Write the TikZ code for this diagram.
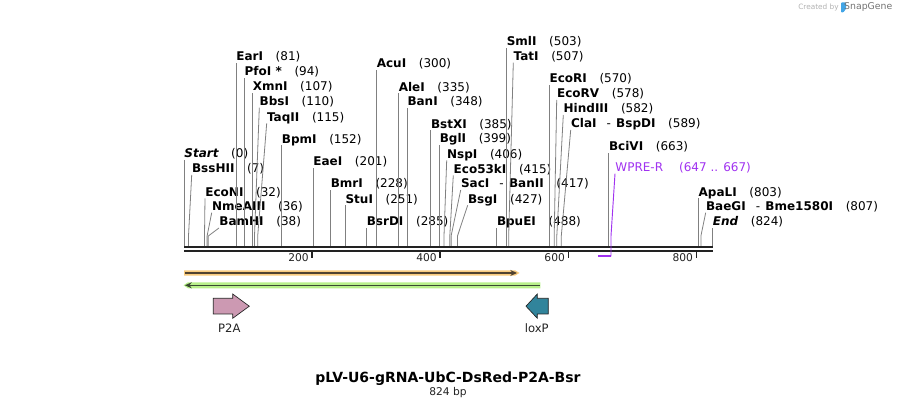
\documentclass[tikz,border=0pt]{standalone}
\usepackage{fontspec}
\setmainfont{DejaVu Sans}
\usetikzlibrary{arrows.meta}
\definecolor{leadgray}{RGB}{128,128,128}
\definecolor{axisblack}{RGB}{34,34,34}
\definecolor{orangeband}{RGB}{249,203,126}
\definecolor{greenband}{RGB}{184,240,138}
\definecolor{orangeline}{RGB}{80,66,48}
\definecolor{greenline}{RGB}{58,74,50}
\definecolor{ptwoa}{RGB}{204,153,178}
\definecolor{loxp}{RGB}{49,132,155}
\definecolor{primer}{RGB}{160,50,240}
\definecolor{sgblue}{RGB}{66,165,230}

\begin{document}
\begin{tikzpicture}[x=0.75pt,y=-0.75pt,
    lead/.style={draw=leadgray,line width=0.6pt},
    enz/.style={anchor=base west,inner sep=0pt,yshift=1.5pt,
                font=\fontsize{9}{10}\selectfont\bfseries},
    feat/.style={draw=axisblack,line width=0.5pt}]
    \useasboundingbox (0,0) rectangle (897,409);

    % sequence line and ticks
    \draw[axisblack,line width=1.5pt] (184,247.3) -- (712.7,247.3);
    \draw[axisblack,line width=1.3pt] (184,251) -- (712.7,251);
    \draw[axisblack,line width=1.2pt] (312.1,251) -- (312.1,258.5)
        node[anchor=east,inner sep=0pt,xshift=-2pt,yshift=1pt,font=\fontsize{8}{9}\selectfont] (t200) {200};
    \draw[axisblack,line width=1.2pt] (440.2,251) -- (440.2,258.5)
        node[anchor=east,inner sep=0pt,xshift=-2pt,yshift=1pt,font=\fontsize{8}{9}\selectfont] (t400) {400};
    \draw[axisblack,line width=1.2pt] (568.3,251) -- (568.3,258.5)
        node[anchor=east,inner sep=0pt,xshift=-2pt,yshift=1pt,font=\fontsize{8}{9}\selectfont] (t600) {600};
    \draw[axisblack,line width=1.2pt] (696.4,251) -- (696.4,258.5)
        node[anchor=east,inner sep=0pt,xshift=-2pt,yshift=1pt,font=\fontsize{8}{9}\selectfont] (t800) {800};

    % enzyme sites
    \draw[lead] (184,246) -- (184,160) node[enz] (Start) {\itshape Start\hspace{9.5pt}{\mdseries\upshape(0)}};
    \draw[lead] (188.5,246) -- (188.5,236) -- (191.7,175) node[enz] (BssHII) {BssHII\hspace{9.5pt}{\mdseries(7)}};
    \draw[lead] (204.5,246) -- (204.5,236) -- (205,198.3) node[enz] (EcoNI) {EcoNI\hspace{9.5pt}{\mdseries(32)}};
    \draw[lead] (207.1,246) -- (207.1,236) -- (211.7,212.7) node[enz] (NmeAIII) {NmeAIII\hspace{9.5pt}{\mdseries(36)}};
    \draw[lead] (208.3,246) -- (208.3,236) -- (219,228) node[enz] (BamHI) {BamHI\hspace{9.5pt}{\mdseries(38)}};
    \draw[lead] (236,246) -- (236,62.7) node[enz] (EarI) {EarI\hspace{9.5pt}{\mdseries(81)}};
    \draw[lead] (244.3,246) -- (244.3,77.7) node[enz] (PfoI) {PfoI *\hspace{9.5pt}{\mdseries(94)}};
    \draw[lead] (252.4,246) -- (252.4,92.7) node[enz] (XmnI) {XmnI\hspace{9.5pt}{\mdseries(107)}};
    \draw[lead] (254.5,246) -- (254.5,236) -- (259.3,107.7) node[enz] (BbsI) {BbsI\hspace{9.5pt}{\mdseries(110)}};
    \draw[lead] (257.7,246) -- (257.7,236) -- (266.7,123.3) node[enz] (TaqII) {TaqII\hspace{9.5pt}{\mdseries(115)}};
    \draw[lead] (281.5,246) -- (281.5,145.3) node[enz] (BpmI) {BpmI\hspace{9.5pt}{\mdseries(152)}};
    \draw[lead] (313,246) -- (313,168) node[enz] (EaeI) {EaeI\hspace{9.5pt}{\mdseries(201)}};
    \draw[lead] (330.4,246) -- (330.4,190) node[enz] (BmrI) {BmrI\hspace{9.5pt}{\mdseries(228)}};
    \draw[lead] (345.2,246) -- (345.2,205.3) node[enz] (StuI) {StuI\hspace{9.5pt}{\mdseries(251)}};
    \draw[lead] (366.4,246) -- (366.4,227.7) node[enz] (BsrDI) {BsrDI\hspace{9.5pt}{\mdseries(285)}};
    \draw[lead] (376.4,246) -- (376.4,70) node[enz] (AcuI) {AcuI\hspace{9.5pt}{\mdseries(300)}};
    \draw[lead] (398.4,246) -- (398.4,93.3) node[enz] (AleI) {AleI\hspace{9.5pt}{\mdseries(335)}};
    \draw[lead] (407.1,246) -- (407.1,108) node[enz] (BanI) {BanI\hspace{9.5pt}{\mdseries(348)}};
    \draw[lead] (430.6,246) -- (430.6,130.3) node[enz] (BstXI) {BstXI\hspace{9.5pt}{\mdseries(385)}};
    \draw[lead] (439.4,246) -- (439.4,145) node[enz] (BglI) {BglI\hspace{9.5pt}{\mdseries(399)}};
    \draw[lead] (444,246) -- (444,236) -- (446.7,160.3) node[enz] (NspI) {NspI\hspace{9.5pt}{\mdseries(406)}};
    \draw[lead] (449.8,246) -- (449.8,236) -- (453.3,175.3) node[enz] (EcokI) {Eco53kI\hspace{9.5pt}{\mdseries(415)}};
    \draw[lead] (451.1,246) -- (451.1,236) -- (460.7,190) node[enz] (SacI) {SacI\hspace{7.5pt}{\mdseries-}\hspace{4pt}BanII\hspace{9.5pt}{\mdseries(417)}};
    \draw[lead] (457.5,246) -- (457.5,236) -- (467.7,205.3) node[enz] (BsgI) {BsgI\hspace{9.5pt}{\mdseries(427)}};
    \draw[lead] (496.6,246) -- (496.6,227.7) node[enz] (BpuEI) {BpuEI\hspace{9.5pt}{\mdseries(488)}};
    \draw[lead] (506.4,246) -- (506.4,47.7) node[enz] (SmlI) {SmlI\hspace{9.5pt}{\mdseries(503)}};
    \draw[lead] (508.7,246) -- (508.7,236) -- (513.3,62.7) node[enz] (TatI) {TatI\hspace{9.5pt}{\mdseries(507)}};
    \draw[lead] (549.2,246) -- (549.2,85) node[enz] (EcoRI) {EcoRI\hspace{9.5pt}{\mdseries(570)}};
    \draw[lead] (554.2,246) -- (554.2,236) -- (556.7,100) node[enz] (EcoRV) {EcoRV\hspace{9.5pt}{\mdseries(578)}};
    \draw[lead] (556.8,246) -- (556.8,236) -- (563.3,115) node[enz] (HindIII) {HindIII\hspace{9.5pt}{\mdseries(582)}};
    \draw[lead] (561.3,246) -- (561.3,236) -- (570.7,130) node[enz] (ClaI) {ClaI\hspace{7.5pt}{\mdseries-}\hspace{4pt}BspDI\hspace{9.5pt}{\mdseries(589)}};
    \draw[lead] (608.7,246) -- (608.7,152.7) node[enz] (BciVI) {BciVI\hspace{9.5pt}{\mdseries(663)}};
    \draw[lead] (698.3,246) -- (698.3,198.3) node[enz] (ApaLI) {ApaLI\hspace{9.5pt}{\mdseries(803)}};
    \draw[lead] (700.9,246) -- (700.9,236) -- (705.7,212.7) node[enz] (BaeGI) {BaeGI\hspace{7.5pt}{\mdseries-}\hspace{4pt}Bme1580I\hspace{9.5pt}{\mdseries(807)}};
    \draw[lead] (712.5,246) -- (712.5,227.7) node[enz] (End) {\itshape End\hspace{9.5pt}{\mdseries\upshape(824)}};

    % primer
    \draw[primer,line width=1.5pt] (598.4,256) -- (611.2,256);
    \draw[primer,line width=0.7pt] (611,256.5) -- (611,236) -- (615,173.7)
        node[enz,font=\fontsize{9}{10}\selectfont,text=primer] (WPRE) {WPRE-R\hspace{12pt}(647 .. 667)};

    % features
    \fill[orangeband] (184,270.3) -- (515,270.3) -- (519.5,273) -- (515,275.7) -- (184,275.7) -- cycle;
    \draw[orangeline,line width=1.1pt,-{Stealth[length=5pt,width=4.5pt]}] (185,273) -- (517,273);
    \fill[greenband] (183.5,285.3) -- (188,282.3) -- (540.4,282.3) -- (540.4,288.3) -- (188,288.3) -- cycle;
    \draw[greenline,line width=1.1pt,-{Stealth[length=5pt,width=4.5pt]}] (539.5,285.3) -- (185,285.3);
    \draw[feat,fill=ptwoa] (213.3,298.3) -- (232.7,298.3) -- (232.7,294) -- (249.3,306.2)
        -- (232.7,318.3) -- (232.7,314) -- (213.3,314) -- cycle;
    \draw[feat,fill=loxp] (548.3,298.3) -- (537.3,298.3) -- (537.3,294) -- (526,306.2)
        -- (537.3,318.3) -- (537.3,314) -- (548.3,314) -- cycle;
    \node[font=\fontsize{8.7}{10}\selectfont,text=axisblack] (p2a) at (229.3,327.7) {P2A};
    \node[font=\fontsize{8.7}{10}\selectfont,text=axisblack] (lox) at (536.7,327.7) {loxP};

    % title
    \node[font=\fontsize{10.5}{12}\selectfont\bfseries] (title) at (448,378.5) {pLV-U6-gRNA-UbC-DsRed-P2A-Bsr};
    \node[font=\fontsize{8}{9}\selectfont,text=axisblack] (size) at (448,393) {824 bp};

    % credit
    \node[font=\fontsize{5.5}{6}\selectfont,text=black!30] (cby) at (818.5,7.3) {Created by};
    \fill[sgblue,rounded corners=0.6pt] (841,2.5) -- (846.2,2.5) -- (846.2,8.5) -- (843.3,12.5) -- (841,12.5) -- cycle;
    \node[font=\fontsize{7}{8}\selectfont,text=black!55] (sg) at (868.3,7.3) {SnapGene};
\end{tikzpicture}
\end{document}
